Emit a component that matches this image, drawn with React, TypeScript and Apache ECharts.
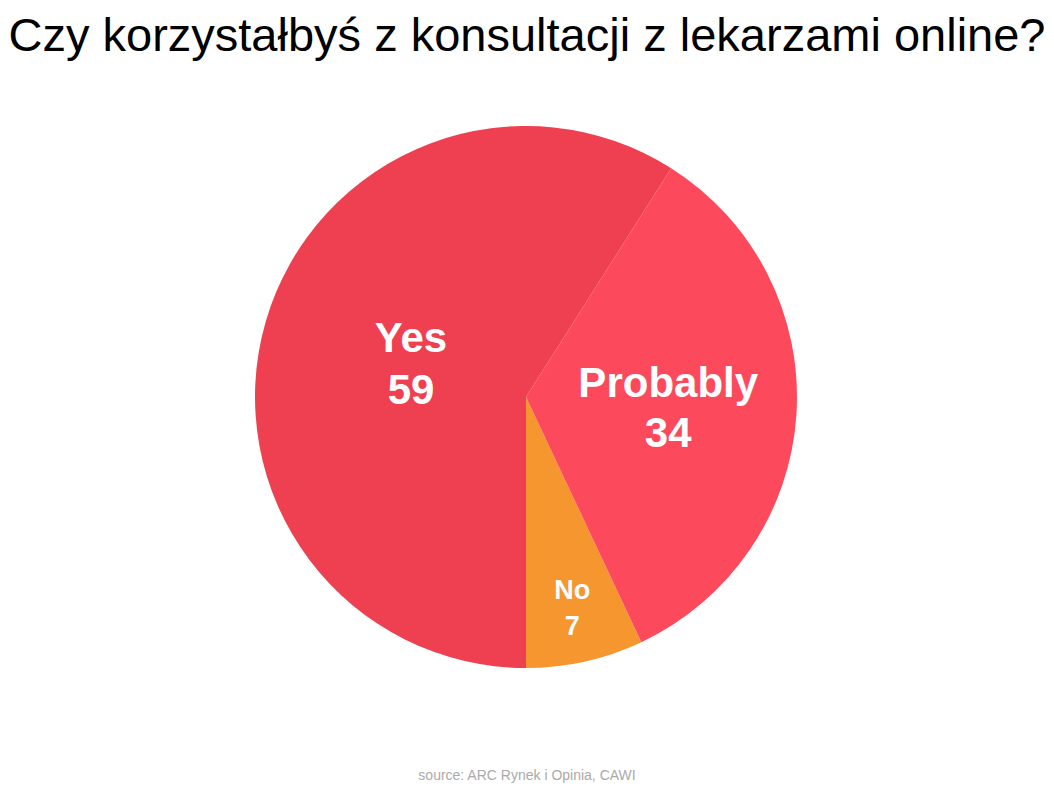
import React, { useEffect, useRef } from "react";
import * as echarts from "echarts";

const categories = ["No", "Probably", "Yes"];
const values = [7, 34, 59];
const colors = ["#F5962F", "#FC4A5C", "#EE4050"];
const labelFontSizes = [27, 42, 42];
const labelLineHeights = [36, 50, 52];
const labelShift = [
  [16, 76],
  [4, 2],
  [18, 5],
];

export default function App() {
  const ref = useRef<HTMLDivElement>(null);
  useEffect(() => {
    if (!ref.current) return;
    const chart = echarts.init(ref.current, null, { renderer: "svg" });
    chart.setOption({
      animation: false,
      backgroundColor: "#ffffff",
      title: [
        {
          text: "Czy korzystałbyś z konsultacji z lekarzami online?",
          left: "center",
          top: 4,
          padding: 0,
          textStyle: {
            fontFamily: "Liberation Sans",
            fontWeight: "normal",
            fontSize: 47,
            lineHeight: 60,
            color: "#000",
          },
        },
        {
          text: "source: ARC Rynek i Opinia, CAWI",
          left: "center",
          top: 768,
          padding: 0,
          textStyle: {
            fontFamily: "Liberation Sans",
            fontWeight: "normal",
            fontSize: 14,
            color: "#aaaaaa",
          },
        },
      ],
      series: [
        {
          type: "pie",
          center: [526, 397],
          radius: 271,
          startAngle: 270,
          clockwise: false,
          silent: true,
          label: {
            show: true,
            position: "inside",
            formatter: "{b}\n{c}",
            color: "#fff",
            fontWeight: "bold",
            fontFamily: "Liberation Sans",
          },
          labelLine: { show: false },
          labelLayout: (p: any) => ({
            dx: labelShift[p.dataIndex][0],
            dy: labelShift[p.dataIndex][1],
          }),
          data: categories.map((c, i) => ({
            name: c,
            value: values[i],
            itemStyle: { color: colors[i] },
            label: { fontSize: labelFontSizes[i], lineHeight: labelLineHeights[i] },
          })),
        },
      ],
    });
    return () => chart.dispose();
  }, []);
  return (
    <div
      ref={ref}
      style={{ position: "fixed", left: 0, top: 0, width: 1054, height: 793 }}
    />
  );
}
